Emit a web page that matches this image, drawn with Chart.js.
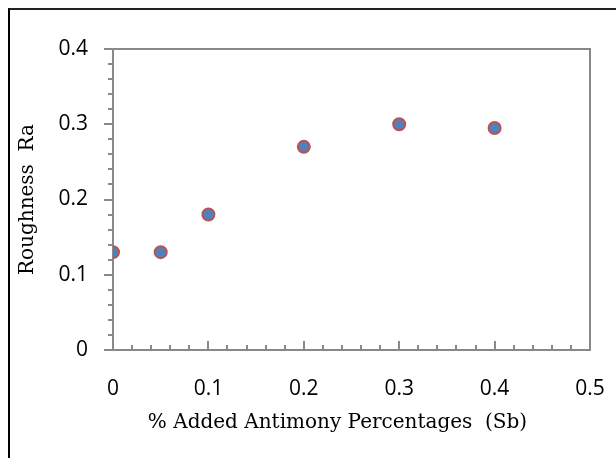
<!DOCTYPE html>
<html>
<head>
<meta charset="utf-8">
<script src="https://cdn.jsdelivr.net/npm/chart.js@4/dist/chart.umd.min.js"></script>
<style>
  html, body { margin: 0; padding: 0; background: #fff; overflow: hidden; }
  #frame { position: absolute; left: 8px; top: 8px; width: 700px; height: 600px;
           border-left: 2px solid #000; border-top: 2px solid #222; }
  #c { position: absolute; left: 0; top: 0; }
</style>
</head>
<body>
<div id="frame"></div>
<canvas id="c" width="616" height="458"></canvas>
<script>
// ---- data ----
const antimonyPct = [0, 0.05, 0.1, 0.2, 0.3, 0.4];
const roughnessRa = [0.13, 0.13, 0.18, 0.27, 0.30, 0.295];
const xTickValues = [0, 0.1, 0.2, 0.3, 0.4, 0.5];
const xTickLabels = ['0', '0.1', '0.2', '0.3', '0.4', '0.5'];
const yTickValues = [0, 0.1, 0.2, 0.3, 0.4];
const yTickLabels = ['0', '0.1', '0.2', '0.3', '0.4'];
const xTitle = '% Added Antimony Percentages  (Sb)';
const yTitle = 'Roughness  Ra';

const points = antimonyPct.map((x, i) => ({ x: x, y: roughnessRa[i] }));

function labelFor(values, labels, v) {
  for (let i = 0; i < values.length; i++) {
    if (Math.abs(values[i] - v) < 1e-9) return labels[i];
  }
  return '';
}

const axisColor = '#898989';
const tickFont = { family: '"Liberation Sans Narrow", "Open Sans", sans-serif', size: 21 };

const frameTicks = {
  id: 'frameTicks',
  beforeDatasetsDraw(chart) {
    const ctx = chart.ctx;
    const a = chart.chartArea;
    const xs = chart.scales.x, ys = chart.scales.y;
    ctx.save();
    ctx.strokeStyle = axisColor;
    ctx.lineWidth = 2;
    ctx.strokeRect(a.left, a.top, a.right - a.left, a.bottom - a.top);
    // y ticks (outward, left)
    for (let i = 0; i <= 20; i++) {
      const v = i * 0.02;
      const py = Math.round(ys.getPixelForValue(v));
      const major = (i % 5 === 0);
      const len = major ? 9 : 5;
      ctx.beginPath();
      ctx.moveTo(a.left, py);
      ctx.lineTo(a.left - len, py);
      ctx.stroke();
    }
    // x ticks (inward, up)
    for (let i = 0; i <= 25; i++) {
      const v = i * 0.02;
      const px = Math.round(xs.getPixelForValue(v));
      const major = (i % 5 === 0);
      const len = major ? 9 : 5;
      ctx.beginPath();
      ctx.moveTo(px, a.bottom);
      ctx.lineTo(px, a.bottom - len);
      ctx.stroke();
    }
    ctx.restore();
  },
  afterDraw(chart) {
    const ctx = chart.ctx;
    const a = chart.chartArea;
    ctx.save();
    ctx.fillStyle = '#000';
    ctx.font = '20px "DejaVu Serif"';
    ctx.textAlign = 'center';
    ctx.textBaseline = 'middle';
    ctx.fillText(xTitle, (a.left + a.right) / 2 - 14, 423);
    ctx.restore();
  }
};

new Chart(document.getElementById('c'), {
  type: 'scatter',
  data: {
    datasets: [{
      data: points,
      backgroundColor: '#4F81BD',
      borderColor: '#C0504D',
      borderWidth: 2,
      pointRadius: 6,
      pointHoverRadius: 6
    }]
  },
  options: {
    responsive: false,
    animation: false,
    layout: { padding: { left: 0, top: 49, right: 26, bottom: 0 } },
    plugins: { legend: { display: false }, tooltip: { enabled: false } },
    scales: {
      x: {
        type: 'linear',
        min: 0, max: 0.5,
        afterBuildTicks(scale) { scale.ticks = xTickValues.map(v => ({ value: v })); },
        afterFit(scale) { scale.height = 108; scale.paddingLeft = 0; scale.paddingRight = 0; },
        grid: { display: false },
        border: { display: false },
        ticks: {
          color: '#000',
          font: tickFont,
          padding: 18,
          maxRotation: 0,
          callback: (v) => labelFor(xTickValues, xTickLabels, v)
        }
      },
      y: {
        type: 'linear',
        min: 0, max: 0.4,
        afterBuildTicks(scale) { scale.ticks = yTickValues.map(v => ({ value: v })); },
        afterFit(scale) { scale.width = 113; scale.paddingTop = 0; scale.paddingBottom = 0; },
        grid: { display: false },
        border: { display: false },
        title: {
          display: true,
          text: yTitle,
          color: '#000',
          font: { family: '"DejaVu Serif"', size: 20 },
          padding: { top: 16, bottom: 0 }
        },
        ticks: {
          color: '#000',
          font: tickFont,
          padding: 17,
          callback: (v) => labelFor(yTickValues, yTickLabels, v)
        }
      }
    }
  },
  plugins: [frameTicks]
});
</script>
</body>
</html>
